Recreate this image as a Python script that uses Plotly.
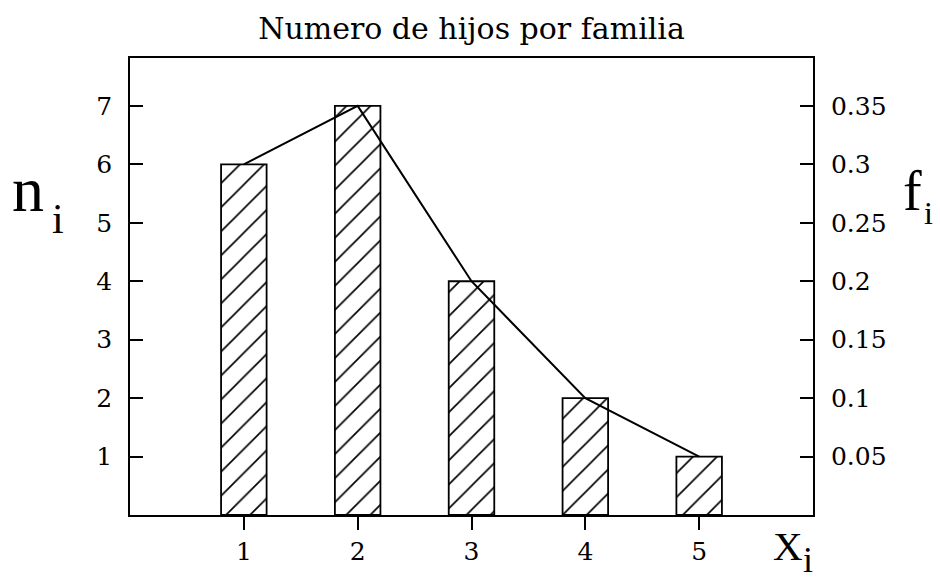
import plotly.graph_objects as go

# data
hijos = [1, 2, 3, 4, 5]
n_i = [6, 7, 4, 2, 1]
f_i = [0.3, 0.35, 0.2, 0.1, 0.05]

x_ticks = [1, 2, 3, 4, 5]
y_ticks = [1, 2, 3, 4, 5, 6, 7]
y2_ticks = [0.05, 0.1, 0.15, 0.2, 0.25, 0.3, 0.35]
y2_labels = ["0.05", "0.1", "0.15", "0.2", "0.25", "0.3", "0.35"]

W, H = 940, 581
L, R, T, B = 130, 127, 58, 66
TICK_FONT = "DejaVu Serif"
SYM_FONT = "Liberation Serif"


def paper(px, py):
    # pixel position -> paper coordinates
    return (px - L) / (W - L - R), (H - B - py) / (H - T - B)


fig = go.Figure()

# hatched bars (absolute frequencies)
fig.add_trace(go.Bar(
    x=hijos,
    y=n_i,
    width=0.4,
    marker=dict(
        color="white",
        line=dict(color="black", width=1.8),
        pattern=dict(shape="/", fgcolor="black", bgcolor="white",
                     fgopacity=1, size=17, solidity=0.1),
    ),
    showlegend=False,
))

# relative frequency polygon on the right axis
fig.add_trace(go.Scatter(
    x=hijos,
    y=f_i,
    yaxis="y2",
    mode="lines",
    line=dict(color="black", width=2),
    showlegend=False,
))

fig.update_layout(
    width=W,
    height=H,
    autosize=False,
    plot_bgcolor="white",
    paper_bgcolor="white",
    margin=dict(l=L, r=R, t=T, b=B),
    font=dict(family=TICK_FONT, size=25, color="black"),
    title=dict(
        text="Numero de hijos por familia",
        x=0.5, xref="paper", xanchor="center",
        y=1 - 28 / H, yref="container", yanchor="middle",
        font=dict(family=TICK_FONT, size=30),
    ),
    xaxis=dict(
        range=[0, 6],
        tickvals=x_ticks,
        ticks="outside", ticklen=13, tickwidth=1.5, tickcolor="black",
        showline=True, linecolor="black", linewidth=1.8, mirror=True,
        showgrid=False, zeroline=False,
    ),
    yaxis=dict(
        range=[0, 7.82],
        tickvals=y_ticks,
        ticks="inside", ticklen=13, tickwidth=1.5, tickcolor="black",
        showline=True, linecolor="black", linewidth=1.8,
        showgrid=False, zeroline=False,
        ticklabelstandoff=11,
    ),
    yaxis2=dict(
        range=[0, 0.391],
        tickvals=y2_ticks,
        ticktext=y2_labels,
        overlaying="y",
        side="right",
        ticks="inside", ticklen=13, tickwidth=1.5, tickcolor="black",
        showline=True, linecolor="black", linewidth=1.8,
        showgrid=False, zeroline=False,
        ticklabelstandoff=11,
    ),
)

# axis symbols: (text, x px, y px, size)
symbols = [
    ("n", 28, 190, 64),
    ("i", 58, 219, 42),
    ("f", 912, 191, 56),
    ("i", 929, 213, 32),
    ("X", 788, 546, 41),
    ("i", 808, 560, 36),
]
for txt, px, py, size in symbols:
    ax, ay = paper(px, py)
    fig.add_annotation(text=txt, xref="paper", yref="paper", x=ax, y=ay,
                       xanchor="center", yanchor="middle", showarrow=False,
                       font=dict(family=SYM_FONT, size=size))

fig.write_html("out.html", config={"displayModeBar": False},
               post_script="document.body.style.margin='0';")
